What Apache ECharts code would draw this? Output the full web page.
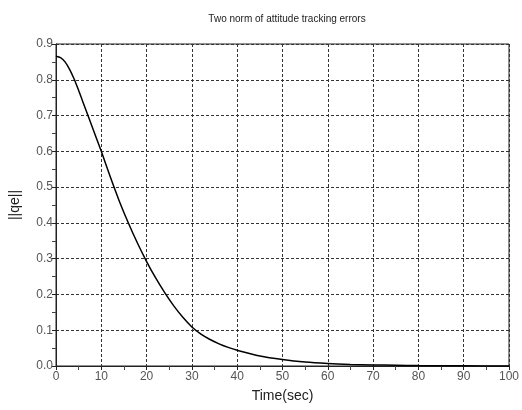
<!DOCTYPE html>
<html>
<head>
<meta charset="utf-8">
<script src="https://cdn.jsdelivr.net/npm/echarts@6/dist/echarts.min.js"></script>
<style>html,body{margin:0;padding:0;background:#fff;}#c{width:522px;height:410px;}</style>
</head>
<body>
<div id="c"></div>
<script>
const titleText = 'Two norm of attitude tracking errors';
const xName = 'Time(sec)';
const yName = '||qe||';
const timeVals = [0, 1, 2, 3, 4, 5, 6, 8, 10, 12, 14, 16, 18, 20, 22, 24, 26, 28, 30, 32, 34, 36, 38, 40, 45, 50, 55, 60, 65, 70, 75, 80, 90, 100];
const qeVals = [0.866, 0.862, 0.850, 0.829, 0.802, 0.770, 0.736, 0.668, 0.600, 0.528, 0.460, 0.399, 0.343, 0.292, 0.246, 0.205, 0.168, 0.136, 0.109, 0.089, 0.074, 0.062, 0.052, 0.044, 0.028, 0.018, 0.011, 0.007, 0.0045, 0.003, 0.002, 0.0012, 0.0005, 0.0002];

const chart = echarts.init(document.getElementById('c'));
const font = 'Liberation Sans, Arial, sans-serif';
const gridLine = {show: true, lineStyle: {color: '#333', width: 1, type: [3, 2]}};
chart.setOption({
  animation: false,
  backgroundColor: '#fff',
  title: {text: titleText, left: 282, textAlign: 'center', top: 9,
    textStyle: {fontSize: 10, fontWeight: 'normal', color: '#222', fontFamily: font}},
  grid: {left: 55, right: 13, top: 44, bottom: 44, show: true, borderColor: '#222', borderWidth: 1},
  xAxis: {type: 'value', min: 0, max: 100, interval: 10,
    name: xName, nameLocation: 'middle', nameGap: 23,
    nameTextStyle: {fontSize: 14, color: '#222', fontFamily: font},
    axisLine: {lineStyle: {color: '#222'}},
    axisTick: {length: 4, lineStyle: {color: '#222'}},
    minorTick: {show: true, splitNumber: 2, length: 4, lineStyle: {color: '#444'}},
    axisLabel: {fontSize: 12, color: '#555', fontFamily: font, margin: 5},
    splitLine: gridLine},
  yAxis: {type: 'value', min: 0, max: 0.9, interval: 0.1,
    name: yName, nameLocation: 'middle', nameGap: 34, nameRotate: 90,
    nameTextStyle: {fontSize: 14, color: '#222', fontFamily: font},
    axisLine: {show: true, lineStyle: {color: '#222'}},
    axisTick: {show: true, length: 4, lineStyle: {color: '#222'}},
    minorTick: {show: true, splitNumber: 2, length: 4, lineStyle: {color: '#444'}},
    axisLabel: {fontSize: 12, color: '#555', fontFamily: font, margin: 3,
      formatter: v => v.toFixed(1)},
    splitLine: gridLine},
  series: [{type: 'line', data: timeVals.map((t, i) => [t, qeVals[i]]),
    smooth: 0.3, showSymbol: false, lineStyle: {color: '#000', width: 1.5}}]
});
</script>
</body>
</html>
